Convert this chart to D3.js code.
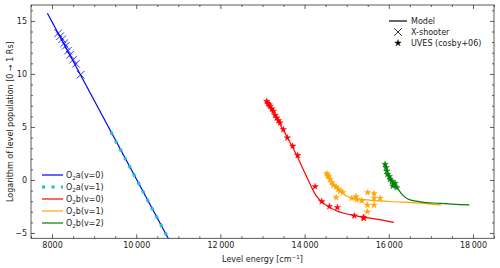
<!DOCTYPE html>
<html>
<head>
<meta charset="utf-8">
<script src="https://cdn.jsdelivr.net/npm/d3@7"></script>
<style>
  body { margin: 0; background: #fff; }
  text { font-family: "DejaVu Sans", sans-serif; fill: #222; }
</style>
</head>
<body>
<script>
// model curves [energy cm^-1, log population]
var modelA0 = [[7890, 15.72], [10800, -5.8]];
var modelA1 = [[9400, 4.52], [10800, -5.8]];
var modelB0 = [[13073, 7.5], [13485, 4.76], [13800, 2.42], [14040, 0.38], [14277, -1.5],
  [14477, -2.28], [14754, -2.9], [15230, -3.38], [15705, -3.69], [16120, -4.0]];
var modelB1 = [[14541, 0.56], [14684, -0.4], [14843, -1.03], [15080, -1.65], [15477, -1.87],
  [16031, -2.03], [16744, -2.19], [17236, -2.37]];
var modelB2 = [[15912, 1.42], [16000, 0.4], [16110, -0.35], [16190, -0.7], [16347, -1.5],
  [16506, -1.88], [16650, -2.0], [16744, -2.06], [17200, -2.2], [17916, -2.35]];

// X-shooter O2a(v=0)
var xsA0 = [[8148, 13.84], [8190, 13.55], [8243, 13.28], [8290, 12.9], [8324, 12.65],
  [8380, 12.2], [8426, 11.8], [8500, 11.35], [8569, 10.96], [8680, 9.93]];

// UVES (cosby+06)
var uvB0 = [[13100, 7.42], [13130, 7.2], [13160, 7.1], [13180, 6.95], [13220, 6.7], [13258, 6.48],
  [13300, 6.1], [13337, 5.86], [13380, 5.6], [13416, 5.39], [13495, 4.76], [13590, 3.98],
  [13717, 3.2], [13836, 2.32], [14250, -0.62], [14408, -2.03], [14588, -2.5], [14778, -2.59],
  [15180, -3.38], [15396, -3.53], [15410, -3.6]];
var uvB1 = [[14526, 0.6], [14550, 0.45], [14566, 0.32], [14606, 0.07], [14645, -0.24], [14685, -0.5],
  [14748, -0.65], [14804, -0.87], [14843, -1.03], [14907, -1.18], [14748, -1.65], [15121, -1.72],
  [15223, -1.56], [15239, -1.87], [15358, -1.97], [15500, -1.18], [15651, -1.28], [15651, -1.72],
  [15794, -1.72], [15492, -2.37], [15651, -2.37], [15492, -3.0]];
var uvB2 = [[15912, 1.48], [15936, 1.17], [15952, 0.85], [15968, 0.54], [16015, 0.32], [16031, 0.07],
  [16071, -0.09], [16110, -0.4], [16150, -0.31], [16190, -0.71], [16095, -0.56]];

var xMajor = [8000, 10000, 12000, 14000, 16000, 18000];
var xTickLabels = ["8000", "10\u2009000", "12\u2009000", "14\u2009000", "16\u2009000", "18\u2009000"];
var yMajor = [-5, 0, 5, 10, 15];
var yTickLabels = ["\u22125", "0", "5", "10", "15"];

var seriesNames = ["a(v=0)", "a(v=1)", "b(v=0)", "b(v=1)", "b(v=2)"];
var colors = ["#0000ff", "#1cc3c8", "#ff0000", "#ffa500", "#008000"];

var margin = {top: 5, right: 6, bottom: 29, left: 31},
    width = 500 - margin.left - margin.right,
    height = 268 - margin.top - margin.bottom - 0.7;

var x = d3.scaleLinear().domain([7500, 18500]).range([0, width]);
var y = d3.scaleLinear().domain([-5.5, 16.5]).range([height, 0]);

var svg = d3.select("body").append("svg")
    .attr("width", 500)
    .attr("height", 268);

svg.append("defs").append("clipPath").attr("id", "clip")
  .append("rect").attr("width", width).attr("height", height);

var g = svg.append("g")
    .attr("transform", "translate(" + margin.left + "," + margin.top + ")");

var line = d3.line()
    .x(function(d) { return x(d[0]); })
    .y(function(d) { return y(d[1]); })
    .curve(d3.curveMonotoneX);

var plot = g.append("g").attr("clip-path", "url(#clip)");

// model lines
plot.append("path").datum(modelA0).attr("d", line)
  .attr("fill", "none").attr("stroke", colors[0]).attr("stroke-width", 1.2);
plot.append("path").datum(modelA1).attr("d", line)
  .attr("fill", "none").attr("stroke", colors[1]).attr("stroke-width", 3.2)
  .attr("stroke-dasharray", "3.2,6.3");
[modelB0, modelB1, modelB2].forEach(function(m, i) {
  plot.append("path").datum(m).attr("d", line)
    .attr("fill", "none").attr("stroke", colors[i + 2]).attr("stroke-width", 1.2);
});

// X-shooter crosses
var cross = d3.symbol().type(d3.symbolTimes).size(40);
plot.selectAll(".xs").data(xsA0).enter().append("path")
  .attr("class", "xs")
  .attr("d", cross)
  .attr("transform", function(d) { return "translate(" + x(d[0]) + "," + y(d[1]) + ")"; })
  .attr("fill", "none").attr("stroke", colors[0]).attr("stroke-width", 0.8);

// UVES stars
var star = d3.symbol().type(d3.symbolStar).size(13);
[uvB0, uvB1, uvB2].forEach(function(s, i) {
  plot.selectAll(".uv" + i).data(s).enter().append("path")
    .attr("class", "uv" + i)
    .attr("d", star)
    .attr("transform", function(d) { return "translate(" + x(d[0]) + "," + y(d[1]) + ")"; })
    .attr("fill", colors[i + 2]).attr("stroke", colors[i + 2]).attr("stroke-width", 0.4);
});

// axes, ticks inward on all sides
var xMinor = d3.range(7500, 18501, 500).filter(function(v) { return xMajor.indexOf(v) < 0; });
var yMinor = d3.range(-5, 17, 1).filter(function(v) { return yMajor.indexOf(v) < 0; });

function styleAxis(sel) {
  sel.select(".domain").remove();
  sel.selectAll("line").attr("stroke", "#333").attr("stroke-width", 0.8);
  sel.selectAll("text").attr("fill", "#222").style("font-size", "8px")
    .style("font-family", "DejaVu Sans, sans-serif");
}

g.append("g").attr("transform", "translate(0," + height + ")")
  .call(d3.axisBottom(x).tickValues(xMajor).tickSize(-4).tickPadding(4)
    .tickFormat(function(d, i) { return xTickLabels[i]; }))
  .call(styleAxis);
g.append("g").attr("transform", "translate(0," + height + ")")
  .call(d3.axisBottom(x).tickValues(xMinor).tickSize(-2).tickFormat(""))
  .call(styleAxis);
g.append("g")
  .call(d3.axisTop(x).tickValues(xMajor).tickSize(-4).tickFormat(""))
  .call(styleAxis);
g.append("g")
  .call(d3.axisTop(x).tickValues(xMinor).tickSize(-2).tickFormat(""))
  .call(styleAxis);

g.append("g")
  .call(d3.axisLeft(y).tickValues(yMajor).tickSize(-4).tickPadding(4)
    .tickFormat(function(d, i) { return yTickLabels[i]; }))
  .call(styleAxis);
g.append("g")
  .call(d3.axisLeft(y).tickValues(yMinor).tickSize(-2).tickFormat(""))
  .call(styleAxis);
g.append("g").attr("transform", "translate(" + width + ",0)")
  .call(d3.axisRight(y).tickValues(yMajor).tickSize(-4).tickFormat(""))
  .call(styleAxis);
g.append("g").attr("transform", "translate(" + width + ",0)")
  .call(d3.axisRight(y).tickValues(yMinor).tickSize(-2).tickFormat(""))
  .call(styleAxis);

g.append("rect").attr("width", width).attr("height", height)
  .attr("fill", "none").attr("stroke", "#333").attr("stroke-width", 0.8);

// axis titles
var xl = svg.append("text")
  .attr("x", margin.left + width / 2).attr("y", 262)
  .attr("text-anchor", "middle").style("font-size", "8px");
xl.append("tspan").text("Level energy [cm");
xl.append("tspan").attr("dy", -3).style("font-size", "5.6px").text("\u22121");
xl.append("tspan").attr("dy", 3).text("]");

svg.append("text")
  .attr("transform", "translate(13," + (margin.top + height / 2) + ") rotate(-90)")
  .attr("text-anchor", "middle").style("font-size", "8px")
  .text("Logarithm of level population [0 \u2192 1 Rs]");

// species legend, lower left
var leg = svg.append("g");
seriesNames.forEach(function(name, i) {
  var ly = 175 + i * 12;
  var ln = leg.append("line").attr("x1", 42).attr("x2", 63).attr("y1", ly).attr("y2", ly)
    .attr("stroke", colors[i]);
  if (i === 1) ln.attr("stroke-width", 3.2).attr("stroke-dasharray", "3.2,6.3");
  else ln.attr("stroke-width", 1.2);
  var t = leg.append("text").attr("x", 66).attr("y", ly + 3).style("font-size", "8px");
  t.append("tspan").text("O");
  t.append("tspan").attr("dy", 2).style("font-size", "5.6px").text("2");
  t.append("tspan").attr("dy", -2).text(name);
});

// data-source legend, upper right
var leg2 = svg.append("g");
var srcNames = ["Model", "X-shooter", "UVES (cosby+06)"];
srcNames.forEach(function(name, i) {
  var ly = 21 + i * 11;
  if (i === 0) {
    leg2.append("line").attr("x1", 389).attr("x2", 407).attr("y1", ly).attr("y2", ly)
      .attr("stroke", "#000").attr("stroke-width", 1.2);
  } else if (i === 1) {
    leg2.append("path").attr("d", cross).attr("transform", "translate(398," + ly + ")")
      .attr("fill", "none").attr("stroke", "#000").attr("stroke-width", 0.8);
  } else {
    leg2.append("path").attr("d", star).attr("transform", "translate(398," + ly + ")")
      .attr("fill", "#000").attr("stroke", "#000").attr("stroke-width", 0.4);
  }
  leg2.append("text").attr("x", 411).attr("y", ly + 3).style("font-size", "8px").text(name);
});
</script>
</body>
</html>
